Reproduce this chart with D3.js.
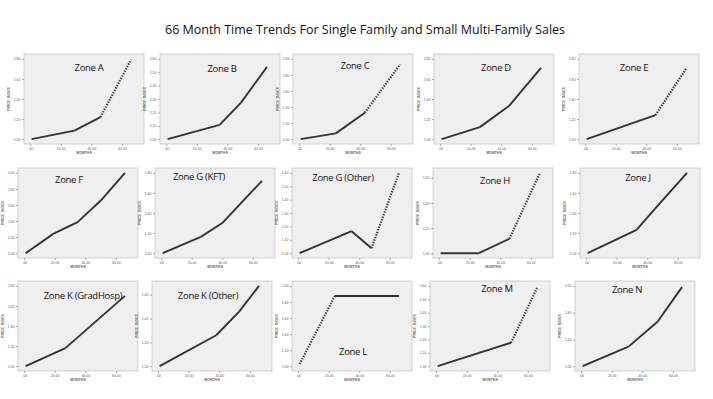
<!DOCTYPE html>
<html>
<head>
<meta charset="utf-8">
<script src="https://cdn.jsdelivr.net/npm/d3@7"></script>
<style>
  body { margin: 0; background: #fff; }
  svg { display: block; }
</style>
</head>
<body>
<svg id="chart" width="713" height="399"></svg>
<script>
// Knots of each zone's trend line: [month, price index]
const zoneNames = ['Zone A', 'Zone B', 'Zone C', 'Zone D', 'Zone E',
  'Zone F', 'Zone G (KFT)', 'Zone G (Other)', 'Zone H', 'Zone J',
  'Zone K (GradHosp)', 'Zone K (Other)', 'Zone L', 'Zone M', 'Zone N'];

const zoneA = [[1, 1.00], [29, 1.085], [46, 1.22], [66, 1.79]];
const zoneB = [[1, 1.00], [35, 1.107], [49, 1.273], [66, 1.54]];
const zoneC = [[1, 1.00], [24, 1.072], [43, 1.33], [66, 1.93]];
const zoneD = [[1, 1.00], [26, 1.12], [45, 1.33], [66, 1.71]];
const zoneE = [[1, 1.00], [46, 1.24], [66, 1.70]];
const zoneF = [[1, 1.00], [19, 1.24], [35, 1.387], [50, 1.652], [66, 2.00]];
const zoneGK = [[1, 1.00], [26, 1.162], [40, 1.30], [66, 1.72]];
const zoneGO = [[1, 1.00], [35, 1.164], [48, 1.037], [66, 1.60]];
const zoneH = [[1, 1.00], [26, 1.00], [46, 1.115], [66, 1.64]];
const zoneJ = [[1, 1.00], [33, 1.232], [45, 1.44], [66, 1.80]];
const zoneKG = [[1, 1.00], [27, 1.18], [66, 1.70]];
const zoneKO = [[1, 1.00], [38, 1.26], [53, 1.458], [66, 1.675]];
const zoneL = [[1, 1.026], [24, 1.874], [66, 1.874]];
const zoneM = [[1, 1.00], [49, 1.175], [66, 1.584]];
const zoneN = [[1, 1.00], [31, 1.146], [50, 1.332], [66, 1.59]];

const zoneSeries = [zoneA, zoneB, zoneC, zoneD, zoneE, zoneF, zoneGK, zoneGO,
  zoneH, zoneJ, zoneKG, zoneKO, zoneL, zoneM, zoneN];

// index of the projected (dotted) segment per zone, -1 = none
const projectedSegment = [2, -1, 2, -1, 1, -1, -1, 2, 2, -1, -1, -1, 0, 1, -1];

// y tick values per zone
const yTicksList = [
  [1.0, 1.2, 1.4, 1.6, 1.8],
  [1.0, 1.1, 1.2, 1.3, 1.4, 1.5, 1.6],
  [1.0, 1.2, 1.4, 1.6, 1.8, 2.0],
  [1.0, 1.2, 1.4, 1.6, 1.8],
  [1.0, 1.2, 1.4, 1.6, 1.8],
  [1.0, 1.2, 1.4, 1.6, 1.8, 2.0],
  [1.0, 1.2, 1.4, 1.6, 1.8],
  [1.0, 1.1, 1.2, 1.3, 1.4, 1.5, 1.6],
  [1.0, 1.2, 1.4, 1.6],
  [1.0, 1.2, 1.4, 1.6, 1.8],
  [1.0, 1.2, 1.4, 1.6, 1.8],
  [1.0, 1.2, 1.4, 1.6],
  [1.0, 1.2, 1.4, 1.6, 1.8, 2.0],
  [1.0, 1.1, 1.2, 1.3, 1.4, 1.5, 1.6],
  [1.0, 1.2, 1.4, 1.6]
];

const xTicks = [0, 20, 40, 60];
const xTickLabels = ['.00', '20.00', '40.00', '60.00'];

// panel layout: plot frame left edge per panel, row tops
const panelLeft = [24, 160, 293, 434, 579, 18, 155, 292, 433, 580, 18, 152, 292, 430, 575];
const rowTop = [54, 168, 281];
const frameW = 120, frameH = 90;

// zone label placement (centre x, baseline y)
const labelPos = [[89, 71], [222, 72], [355, 69], [496, 71], [634, 71],
  [69, 183], [199, 180], [343, 181], [495, 184], [638, 181],
  [83, 299], [208, 299], [353, 355], [497, 292], [627, 293]];

const svg = d3.select('#chart');

svg.append('text')
  .attr('x', 365)
  .attr('y', 34)
  .attr('text-anchor', 'middle')
  .attr('textLength', 400)
  .attr('lengthAdjust', 'spacingAndGlyphs')
  .style('font-family', "'Open Sans', sans-serif")
  .style('font-size', '13px')
  .style('fill', '#111')
  .text('66 Month Time Trends For Single Family and Small Multi-Family Sales');

zoneSeries.forEach((pts, i) => {
  const left = panelLeft[i];
  const top = rowTop[Math.floor(i / 5)];
  const ticks = yTicksList[i];

  const x = d3.scaleLinear().domain([-4, 74.5]).range([left, left + frameW]);

  const allY = ticks.concat(pts.map(p => p[1]));
  const lo = d3.min(allY), hi = d3.max(allY);
  const pad = (hi - lo) * 0.06;
  const y = d3.scaleLinear().domain([lo - pad, hi + pad]).range([top + frameH, top]);

  const g = svg.append('g');

  g.append('rect')
    .attr('x', left).attr('y', top)
    .attr('width', frameW).attr('height', frameH)
    .attr('fill', '#efefef')
    .attr('stroke', '#c8c8c8')
    .attr('stroke-width', 0.8);

  // axes
  const xAxis = d3.axisBottom(x).tickValues(xTicks)
    .tickFormat((d, k) => xTickLabels[k]).tickSize(2).tickPadding(1.5);
  const yAxis = d3.axisLeft(y).tickValues(ticks)
    .tickFormat(d3.format('.2f')).tickSize(2).tickPadding(1.5);

  g.append('g')
    .attr('transform', `translate(0,${top + frameH})`)
    .call(xAxis)
    .call(a => a.select('.domain').remove());
  g.append('g')
    .attr('transform', `translate(${left},0)`)
    .call(yAxis)
    .call(a => a.select('.domain').remove());

  g.selectAll('.tick line').attr('stroke', '#777').attr('stroke-width', 0.6);
  g.selectAll('.tick text')
    .style('font-family', "'Liberation Sans', sans-serif")
    .style('font-size', '3.5px')
    .style('fill', '#666');

  g.append('text')
    .attr('x', left + frameW / 2)
    .attr('y', top + frameH + 10)
    .attr('text-anchor', 'middle')
    .style('font-family', "'Liberation Sans', sans-serif")
    .style('font-size', '3.6px')
    .style('font-weight', 'bold')
    .style('fill', '#666')
    .text('MONTHS');

  g.append('text')
    .attr('transform', `translate(${left - 14},${top + frameH / 2}) rotate(-90)`)
    .attr('text-anchor', 'middle')
    .style('font-family', "'Liberation Sans', sans-serif")
    .style('font-size', '3.6px')
    .style('font-weight', 'bold')
    .style('fill', '#666')
    .text('PRICE_INDEX');

  // trend segments
  const line = d3.line().x(d => x(d[0])).y(d => y(d[1]));
  d3.pairs(pts).forEach((seg, s) => {
    const dotted = s === projectedSegment[i];
    g.append('path')
      .attr('d', line(seg))
      .attr('fill', 'none')
      .attr('stroke', '#333')
      .attr('stroke-width', dotted ? 2.2 : 1.9)
      .attr('stroke-dasharray', dotted ? '1.3,1.4' : null)
      .attr('stroke-linecap', 'butt');
  });

  g.append('text')
    .attr('x', labelPos[i][0])
    .attr('y', labelPos[i][1])
    .attr('text-anchor', 'middle')
    .style('font-family', "'Open Sans', sans-serif")
    .style('font-size', '9.5px')
    .style('letter-spacing', '-0.3px')
    .style('fill', '#111')
    .text(zoneNames[i]);
});
</script>
</body>
</html>
